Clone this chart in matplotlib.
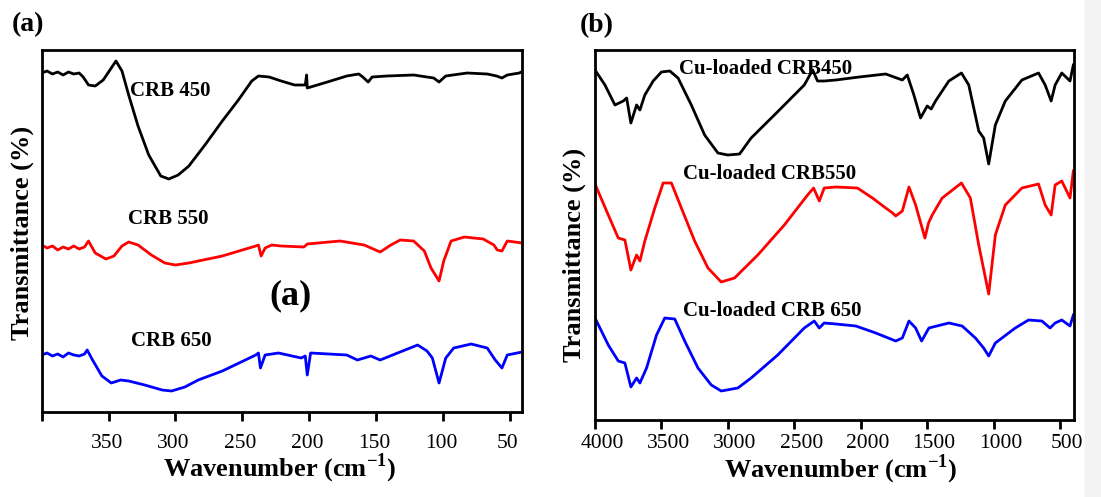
import matplotlib
matplotlib.use("Agg")
import matplotlib.pyplot as plt
from matplotlib.patches import Rectangle
from matplotlib.transforms import ScaledTranslation

plt.rcParams['font.family'] = 'Liberation Serif'
plt.rcParams['mathtext.fontset'] = 'custom'
plt.rcParams['mathtext.rm'] = 'Liberation Serif'
plt.rcParams['mathtext.bf'] = 'Liberation Serif:bold'

# ---- panel (a) : raw biochar, transmittance offsets (a.u.) ----
wn_a_450 = [400, 396, 392, 388, 384, 380, 376, 372, 369, 365, 360, 354, 349, 344.5, 340, 335, 328, 320, 311, 305,
            298, 290, 278, 265, 253, 243, 238, 230, 221, 211, 203, 202, 201.5, 199, 184, 172, 163, 160, 156, 153,
            142, 122, 107, 103, 98, 82, 67, 60, 56, 52, 43, 40]
t_a_450 = [337, 339, 336, 338, 335, 338, 336, 337, 333, 325, 324, 330, 340, 349, 339, 315, 284, 255, 234, 231,
           235, 244, 265, 289, 310, 329, 334, 333, 329, 325, 325, 335, 322, 323, 329, 334, 336, 333, 328, 333,
           334, 335, 332, 328, 334, 337, 336, 334, 332, 335, 337, 339]

wn_a_550 = [400, 396, 392, 388, 384, 380, 376, 372, 368, 365, 360, 352, 346, 340, 335, 328, 318, 308, 300, 290,
            265, 240, 238, 236, 233, 228, 221, 204, 201.5, 177, 159, 147, 139, 132, 122, 114, 109, 103, 99.5, 94,
            84, 70, 62, 59.5, 56, 52, 41]
t_a_550 = [165, 162, 164, 160, 163, 161, 164, 161, 163, 169, 157, 151, 154, 164, 168, 165, 155, 147, 145, 147,
           154, 164, 165, 154, 162, 165, 164, 163, 166, 169, 165, 158, 165, 170, 169, 159, 142, 129, 149, 169,
           173, 171, 165, 160, 159, 169, 167]

wn_a_650 = [400, 396, 392, 388, 384, 380, 376, 372, 368, 366, 362, 355, 348, 341, 335, 323, 310, 303, 293, 283,
            265, 240, 238, 236.5, 233, 223, 206, 203, 201.5, 199, 172, 164, 154, 147, 134, 119, 112, 108, 103, 98,
            92, 79, 67, 61, 56, 52, 41]
t_a_650 = [55, 57, 54, 56, 53, 57, 55, 54, 56, 60, 50, 34, 27, 30, 29, 25, 20, 19, 23, 30,
           39, 55, 57, 42, 55, 57, 52, 54, 35, 57, 55, 50, 54, 50, 57, 65, 59, 52, 27, 52,
           62, 66, 62, 50, 42, 55, 58]

# ---- panel (b) : Cu-loaded biochar ----
wn_b_450 = [4000, 3925, 3850, 3787, 3762, 3730, 3687, 3662, 3625, 3562, 3500, 3437, 3375, 3275, 3175, 3075, 3000,
            2912, 2825, 2650, 2425, 2362, 2325, 2275, 2187, 2012, 1812, 1687, 1650, 1600, 1550, 1525, 1500, 1470,
            1437, 1337, 1242, 1187, 1112, 1075, 1037, 987, 912, 787, 662, 612, 567, 537, 487, 425, 400]
t_b_450 = [348, 333, 313, 317, 320, 295, 313, 308, 323, 337, 346, 347, 340, 313, 283, 265, 263,
           264, 280, 303, 333, 348, 337, 337, 338, 341, 344, 338, 343, 323, 300, 306, 312, 309,
           317, 337, 345, 333, 287, 280, 254, 293, 317, 338, 345, 333, 317, 333, 345, 337, 353]

wn_b_550 = [4000, 3900, 3825, 3775, 3730, 3687, 3662, 3625, 3550, 3487, 3425, 3350, 3250, 3150, 3050, 2950, 2775,
            2575, 2400, 2355, 2312, 2275, 2187, 2025, 1912, 1812, 1760, 1737, 1687, 1637, 1587, 1517, 1490, 1462,
            1387, 1242, 1175, 1112, 1037, 987, 912, 787, 662, 612, 567, 537, 487, 425, 400]
t_b_550 = [234, 203, 180, 178, 148, 163, 157, 177, 210, 235, 235, 210, 177, 150, 136, 140, 163,
           193, 223, 230, 217, 230, 231, 230, 220, 210, 205, 202, 207, 231, 213, 180, 195, 203,
           220, 235, 220, 173, 124, 183, 213, 230, 234, 213, 203, 233, 237, 220, 247]

wn_b_650 = [4000, 3900, 3825, 3775, 3730, 3687, 3662, 3612, 3537, 3475, 3400, 3325, 3225, 3125, 3050, 2925, 2825,
            2625, 2425, 2350, 2312, 2275, 2187, 2037, 1887, 1737, 1687, 1637, 1587, 1542, 1487, 1337, 1237, 1137,
            1075, 1037, 987, 837, 737, 637, 575, 537, 487, 425, 400]
t_b_650 = [100, 73, 57, 55, 31, 40, 35, 50, 83, 100, 99, 77, 50, 33, 27, 30, 40,
           63, 90, 97, 90, 95, 94, 92, 85, 77, 80, 97, 90, 77, 90, 95, 92, 80,
           70, 62, 75, 90, 98, 97, 90, 95, 98, 92, 103]

ticks_a = [400, 350, 300, 250, 200, 150, 100, 50]
ticklabels_a = ['', '350', '300', '250', '200', '150', '100', '50']
ticks_b = [4000, 3500, 3000, 2500, 2000, 1500, 1000, 500]
ticklabels_b = ['4000', '3500', '3000', '2500', '2000', '1500', '1000', '500']

labels_a = ['CRB 450', 'CRB 550', 'CRB 650']
labels_b = ['Cu-loaded CRB450', 'Cu-loaded CRB550', 'Cu-loaded CRB 650']
colors = ['black', 'red', 'blue']

W, H = 1101, 497
fig = plt.figure(figsize=(W / 100, H / 100), dpi=100)

# light grey strip on the right edge of the original image
fig.patches.append(Rectangle((1085 / W, 0), 16 / W, 1, transform=fig.transFigure,
                             color='#f3f3f3', zorder=-1))

ax_a = fig.add_axes([41.7 / W, 1 - 411.5 / H, 480.3 / W, 362 / H])
ax_b = fig.add_axes([595 / W, 1 - 420 / H, 479 / W, 370 / H])


def style_axis(ax, ticks, ticklabels, pad, shift_px):
    for sp in ax.spines.values():
        sp.set_linewidth(2)
    ax.set_yticks([])
    ax.set_xticks(ticks)
    ax.set_xticklabels(ticklabels)
    ax.tick_params(axis='x', direction='out', length=6.5, width=2, labelsize=15.5, pad=pad)
    # tick labels in the source sit slightly off their ticks
    offset = ScaledTranslation(shift_px / 100, 0, fig.dpi_scale_trans)
    for lab in ax.get_xticklabels():
        lab.set_transform(lab.get_transform() + offset)


ax_a.plot(wn_a_450, t_a_450, color=colors[0], lw=2)
ax_a.plot(wn_a_550, t_a_550, color=colors[1], lw=2)
ax_a.plot(wn_a_650, t_a_650, color=colors[2], lw=2)
ax_a.set_xlim(400, 41)
ax_a.set_ylim(-1.5, 360.5)
style_axis(ax_a, ticks_a, ticklabels_a, 9.5, -2)

label_pos_a = [(304, 318.7), (305.4, 191.3), (303, 68.7)]
for (x, y), txt in zip(label_pos_a, labels_a):
    ax_a.text(x, y, txt, fontsize=15, fontweight='bold', ha='center', va='center')
ax_a.text(214.3, 114, '(a)', fontsize=26, fontweight='bold', ha='center', va='center')

ax_b.plot(wn_b_450, t_b_450, color=colors[0], lw=2)
ax_b.plot(wn_b_550, t_b_550, color=colors[1], lw=2)
ax_b.plot(wn_b_650, t_b_650, color=colors[2], lw=2)
ax_b.set_xlim(4000, 395)
ax_b.set_ylim(-2, 368)
style_axis(ax_b, ticks_b, ticklabels_b, 3.5, 7)

label_pos_b = [(2713, 349.3), (2687, 244), (2668, 106.7)]
for (x, y), txt in zip(label_pos_b, labels_b):
    ax_b.text(x, y, txt, fontsize=15, fontweight='bold', ha='center', va='center')

xlabel = r'Wavenumber (cm$^{\mathbf{-1}}$)'
fig.text(280 / W, 1 - 468 / H, xlabel, fontsize=19, fontweight='bold', ha='center', va='center')
fig.text(841 / W, 1 - 469 / H, xlabel, fontsize=19, fontweight='bold', ha='center', va='center')
fig.text(22 / W, 1 - 233 / H, 'Transmittance (%)', fontsize=19, fontweight='bold',
         rotation=90, ha='center', va='center')
fig.text(574 / W, 1 - 255 / H, 'Transmittance (%)', fontsize=19, fontweight='bold',
         rotation=90, ha='center', va='center')

fig.text(28 / W, 1 - 25 / H, '(a)', fontsize=20, fontweight='bold', ha='center', va='center')
fig.text(597 / W, 1 - 26 / H, '(b)', fontsize=20, fontweight='bold', ha='center', va='center')

fig.savefig('out.png', dpi=100)
